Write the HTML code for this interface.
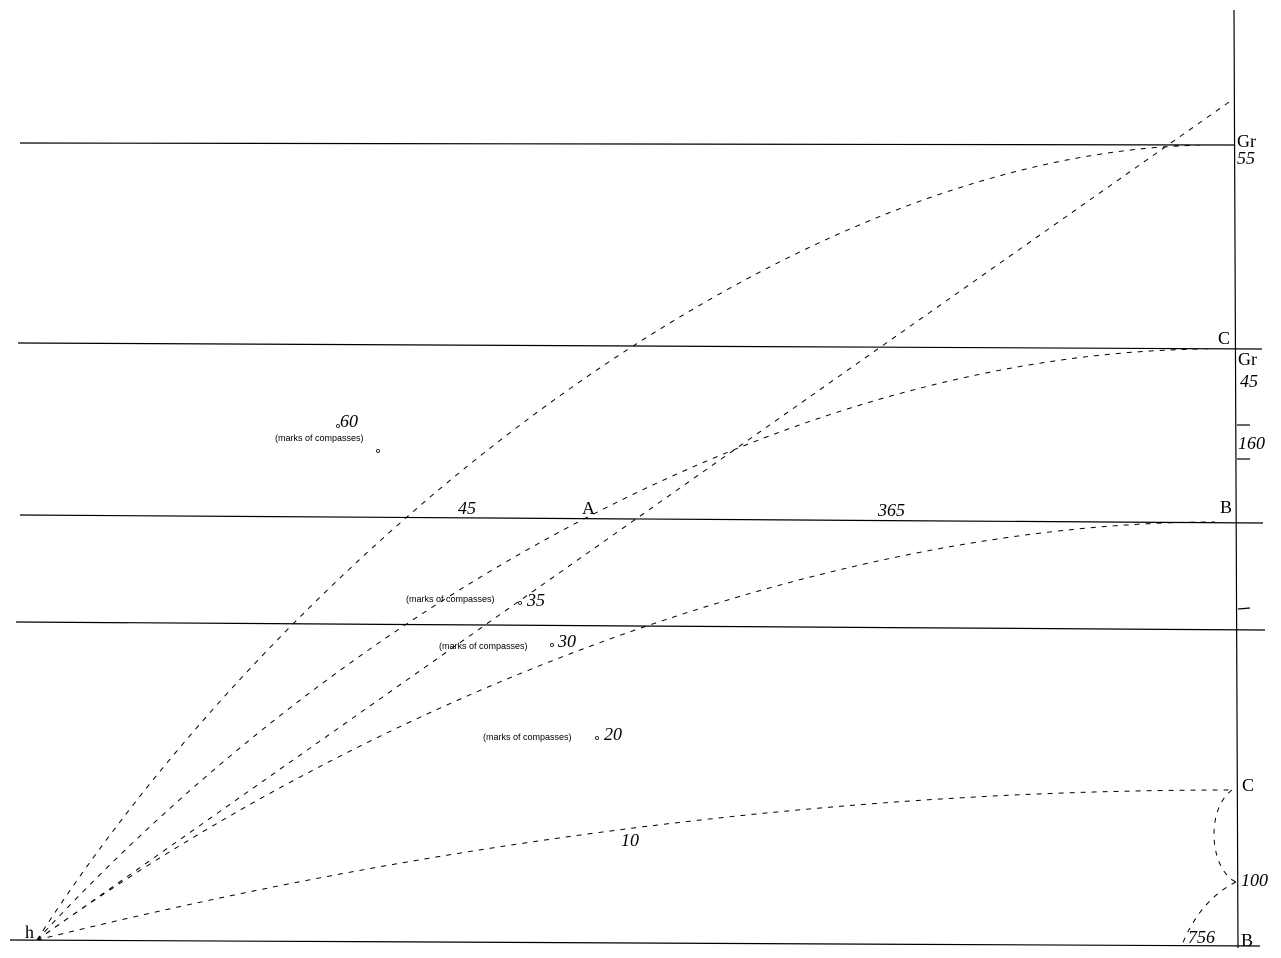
<!DOCTYPE html>
<html><head><meta charset="utf-8"><style>
html,body{margin:0;padding:0;background:#fff;}
svg{display:block;}
text{font-family:"Liberation Serif",serif;font-size:18px;fill:#000;}
.i{font-style:italic;}
.s{font-family:"Liberation Sans",sans-serif;font-size:9px;}
</style></head><body>
<svg width="1281" height="958" viewBox="0 0 1281 958" xmlns="http://www.w3.org/2000/svg">
<g stroke="#000" stroke-width="1.2" fill="none">
<line x1="1234" y1="10" x2="1238" y2="948"/>
<line x1="20" y1="143" x2="1234" y2="145"/>
<line x1="18" y1="343" x2="1262" y2="349"/>
<line x1="20" y1="515" x2="1263" y2="523"/>
<line x1="16" y1="622" x2="1265" y2="630"/>
<line x1="10" y1="940" x2="1260" y2="946"/>
<line x1="1237" y1="425" x2="1250" y2="425"/>
<line x1="1237" y1="459" x2="1250" y2="459"/>
<line x1="1238" y1="609" x2="1250" y2="608"/>
</g>
<g stroke="#000" stroke-width="1" fill="none" stroke-dasharray="5,6">
<path d="M37 940 C280 560 780 145 1215 145"/>
<path d="M37 940 L1232 100"/>
<path d="M37 940 C350 600 800 349 1215 349"/>
<path d="M37 940 C400 680 850 522 1215 522"/>
<path d="M37 940 C400 850 800 790 1230 790"/>
<path d="M1232 790 C1205 810 1210 870 1236 882"/>
<path d="M1236 882 Q1200 900 1182 945"/>
</g>
<g fill="none" stroke="#000" stroke-width="0.8">
<circle cx="338" cy="426" r="1.5"/><circle cx="378" cy="451" r="1.5"/>
<circle cx="520" cy="603" r="1.5"/><circle cx="552" cy="645" r="1.5"/>
<circle cx="597" cy="738" r="1.5"/>
</g>
<text x="1237" y="147">Gr</text>
<text x="1237" y="164" class="i">55</text>
<text x="1218" y="344">C</text>
<text x="1238" y="365">Gr</text>
<text x="1240" y="387" class="i">45</text>
<text x="1238" y="449" class="i">160</text>
<text x="1220" y="513">B</text>
<text x="878" y="516" class="i">365</text>
<text x="458" y="514" class="i">45</text>
<text x="582" y="514">A</text>
<text x="340" y="427" class="i">60</text>
<text x="275" y="441" class="s">(marks of compasses)</text>
<text x="406" y="602" class="s">(marks of compasses)</text>
<text x="527" y="606" class="i">35</text>
<text x="439" y="649" class="s">(marks of compasses)</text>
<text x="558" y="647" class="i">30</text>
<text x="483" y="740" class="s">(marks of compasses)</text>
<text x="604" y="740" class="i">20</text>
<text x="621" y="846" class="i">10</text>
<text x="1242" y="791">C</text>
<text x="1241" y="886" class="i">100</text>
<text x="1188" y="943" class="i">756</text>
<text x="1241" y="946">B</text>
<text x="25" y="938">h</text>
</svg>
</body></html>
